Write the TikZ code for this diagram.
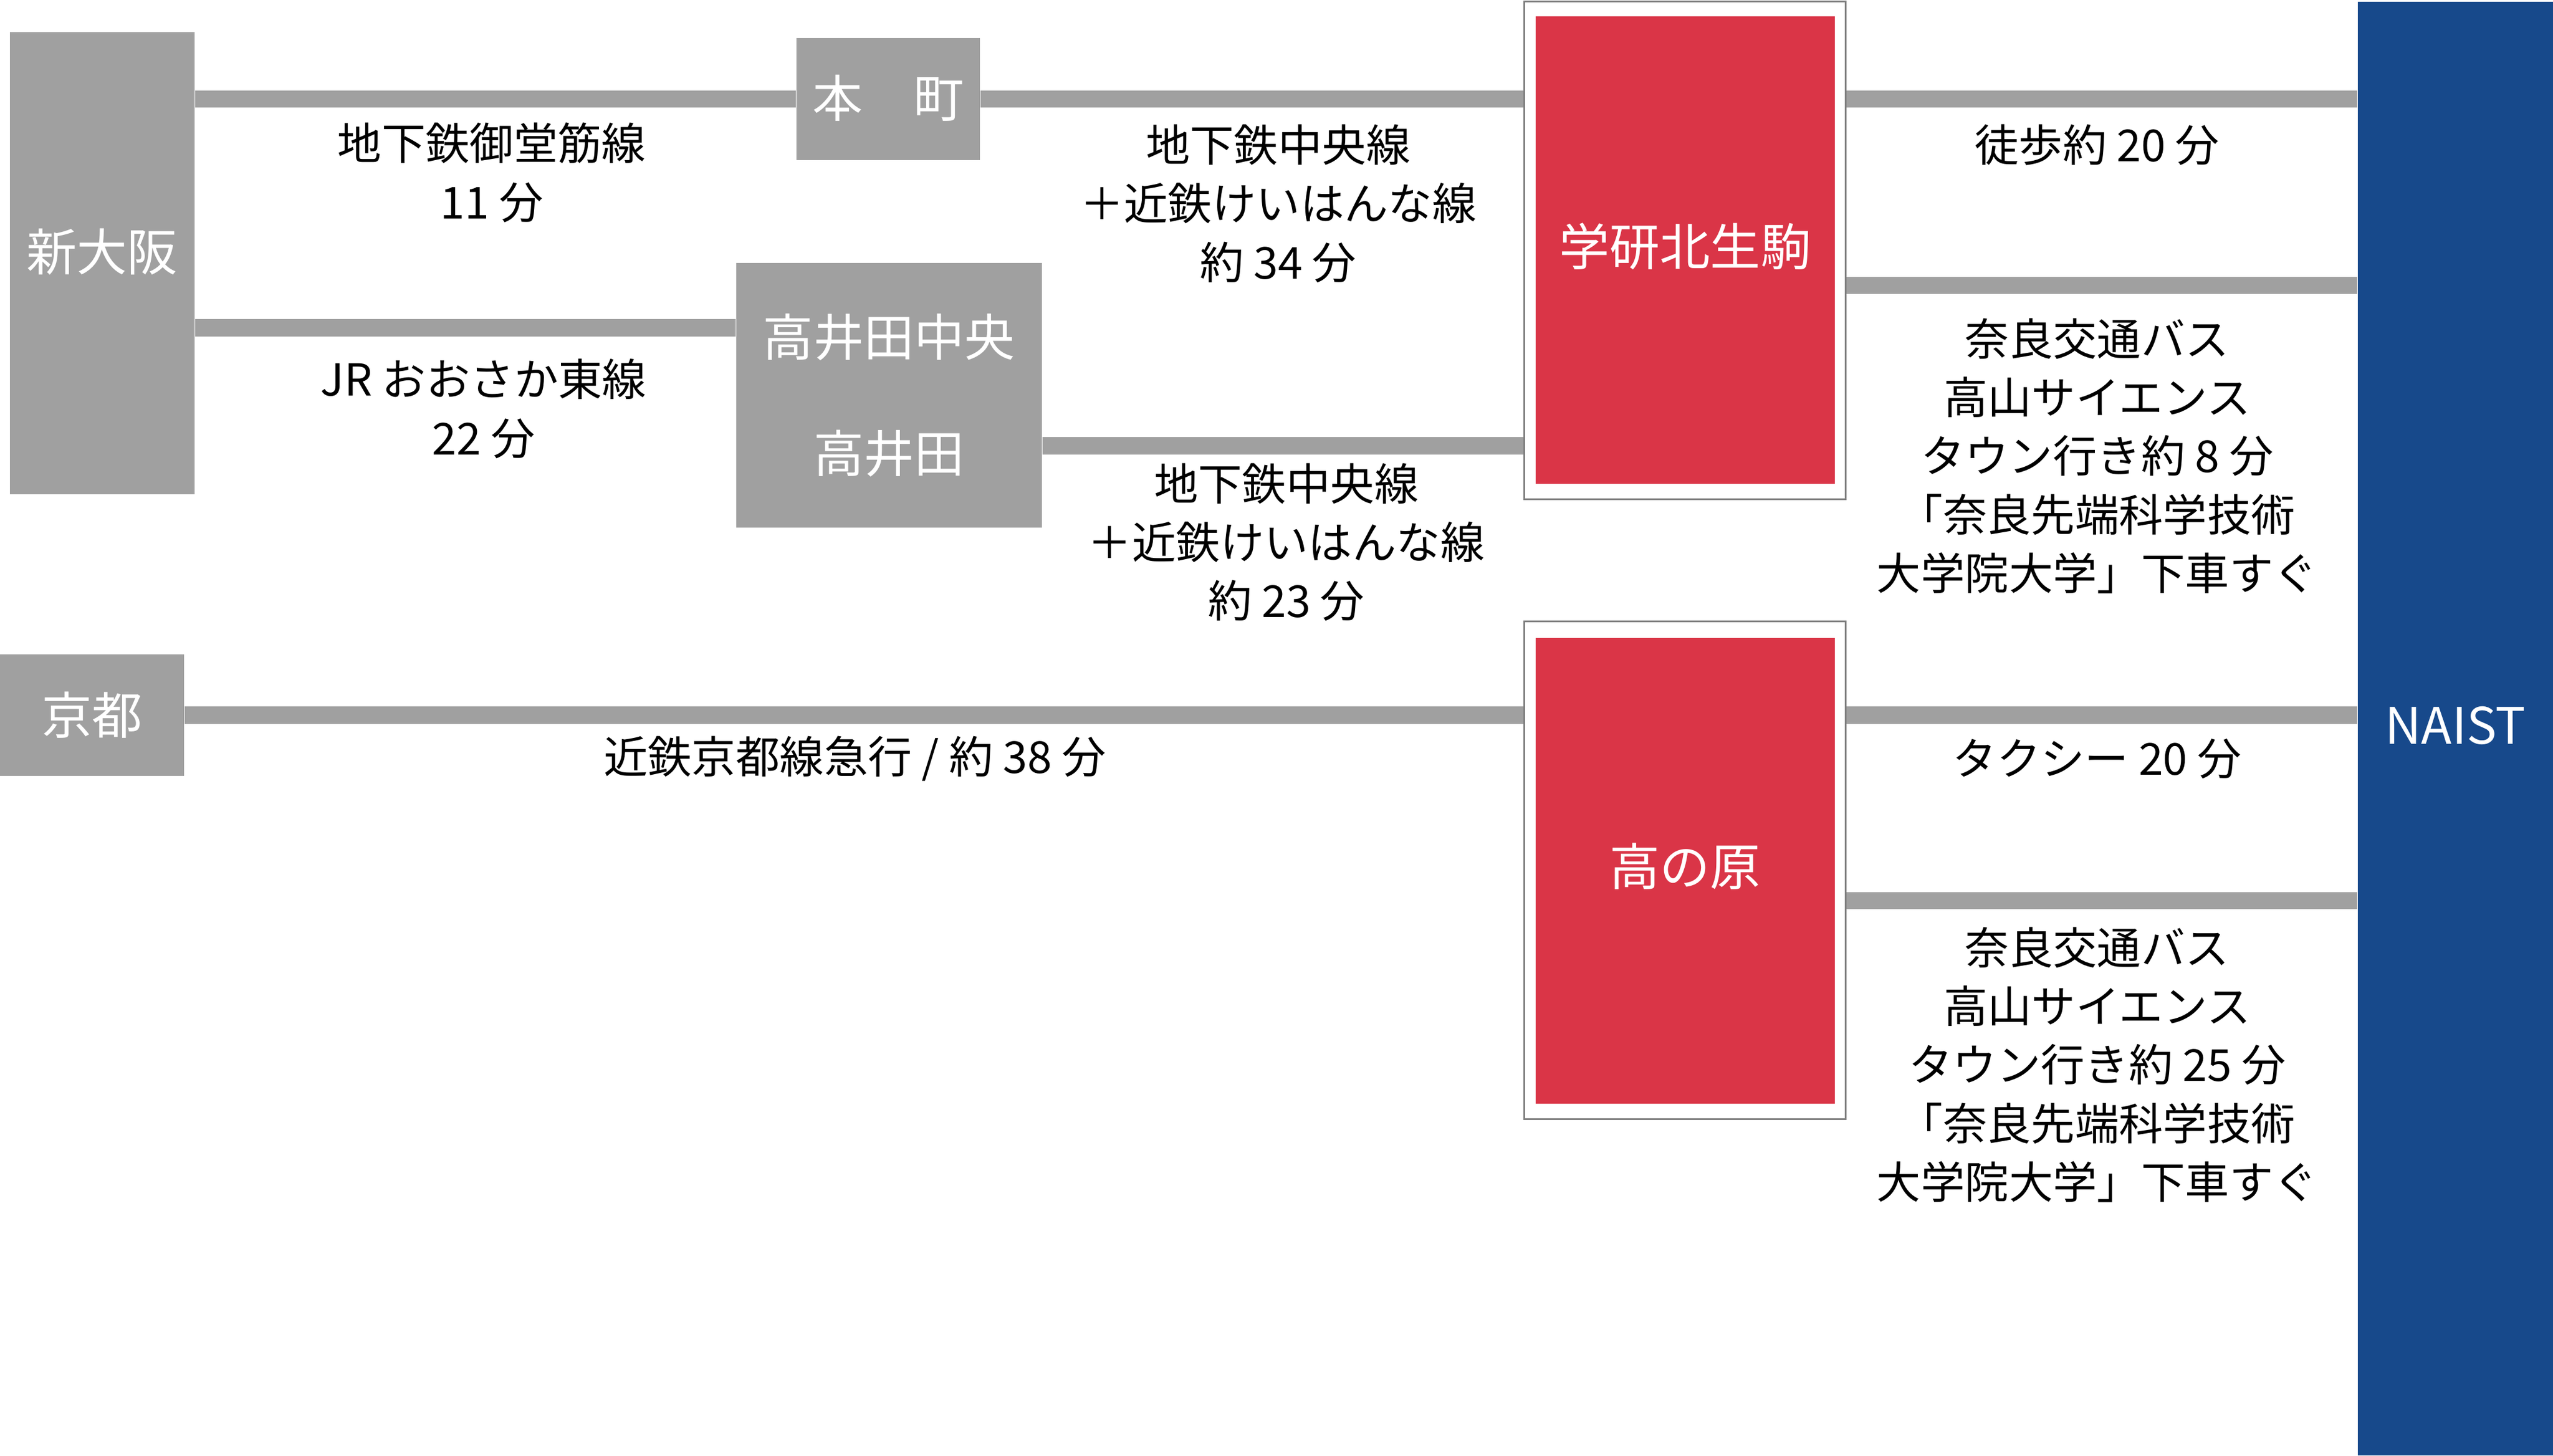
\documentclass[tikz,border=0pt]{standalone}
\usepackage{fontspec}
\setmainfont{Noto Sans CJK JP}
\usetikzlibrary{positioning}
\definecolor{railgray}{RGB}{160,160,160}
\definecolor{framegray}{RGB}{128,128,128}
\definecolor{stared}{RGB}{218,53,71}
\definecolor{naistblue}{RGB}{23,73,139}
\begin{document}
\begin{tikzpicture}[x=0.02cm,y=-0.02cm,
    station/.style={fill=railgray,text=white,inner sep=0pt,font=\fontsize{17.6}{21}\selectfont},
    terminal/.style={fill=stared,text=white,inner sep=0pt,minimum width=3.68cm,minimum height=5.74cm,font=\fontsize{17.6}{21}\selectfont},
    frame/.style={draw=framegray,line width=0.6pt,inner sep=0pt,minimum width=3.95cm,minimum height=6.12cm},
    rail/.style={draw=railgray,line width=0.21cm},
    info/.style={align=center,inner sep=0pt,font=\fontsize{15.4}{20.5}\selectfont}]
    \useasboundingbox (0,0) rectangle (1568,894);
    \node[station,minimum width=2.27cm,minimum height=5.68cm] (shinosaka) at (62.75,161.7) {\raisebox{0.34cm}{新大阪}};
    \node[station,minimum width=2.26cm,minimum height=1.5cm] (honmachi) at (545.5,60.9) {\raisebox{0.08cm}{本　町}};
    \node[station,minimum width=3.76cm,minimum height=3.25cm,align=center,font=\fontsize{17.6}{40.7}\selectfont] (takaida) at (546,242.8) {\raisebox{0.03cm}{高井田中央}\\\raisebox{0.03cm}{高井田}};
    \node[station,minimum width=2.26cm,minimum height=1.49cm] (kyoto) at (56.5,439.3) {\raisebox{0.04cm}{京都}};
    \node[terminal] (gakken) at (1035,153.6) {\raisebox{0.14cm}{学研北生駒}};
    \node[frame] (gakkenf) at (1034.75,153.7) {};
    \node[terminal,minimum height=5.72cm] (hara) at (1035,534.8) {\raisebox{0.16cm}{高の原}};
    \node[frame] (haraf) at (1034.75,534.6) {};
    \node[fill=naistblue,text=white,inner sep=0pt,minimum width=2.4cm,minimum height=17.86cm,font=\fontsize{17.6}{21}\selectfont] (naist) at (1508,447.5) {\raisebox{0.08cm}{NAIST}};

    \coordinate (jr) at ([yshift=0.83cm]takaida.west);
    \coordinate (tk) at ([yshift=-0.62cm]takaida.east);
    \coordinate (bus1) at ([yshift=-0.43cm]gakkenf.east);
    \coordinate (bus2) at ([yshift=-0.37cm]haraf.east);
    \path[rail]
        (shinosaka.east |- honmachi) edge (honmachi.west)
        (honmachi.east) edge (honmachi.east -| gakkenf.west)
        (shinosaka.east |- jr) edge (jr)
        (tk) edge (tk -| gakkenf.west)
        (kyoto.east) edge (kyoto.east -| haraf.west)
        (gakkenf.east |- honmachi) edge (naist.west |- honmachi)
        (bus1) edge (naist.west |- bus1)
        (haraf.east |- kyoto) edge (naist.west |- kyoto)
        (bus2) edge (naist.west |- bus2);

    \node[info] (midosuji) at (302,106) {地下鉄御堂筋線\\11 分};
    \node[info] (osakahigashi) at (297,251) {JR おおさか東線\\22 分};
    \node[info] (chuo1) at (785,125) {地下鉄中央線\\＋近鉄けいはんな線\\約 34 分};
    \node[info] (chuo2) at (790,333) {地下鉄中央線\\＋近鉄けいはんな線\\約 23 分};
    \node[info] (kintetsu) at (525,466) {近鉄京都線急行 / 約 38 分};
    \node[info] (walk) at (1288,89) {徒歩約 20 分};
    \node[info] (busa) at (1288,280) {奈良交通バス\\高山サイエンス\\タウン行き約 8 分\\「奈良先端科学技術\\大学院大学」下車すぐ};
    \node[info] (taxi) at (1288,466) {タクシー 20 分};
    \node[info] (busb) at (1288,654) {奈良交通バス\\高山サイエンス\\タウン行き約 25 分\\「奈良先端科学技術\\大学院大学」下車すぐ};
\end{tikzpicture}
\end{document}
